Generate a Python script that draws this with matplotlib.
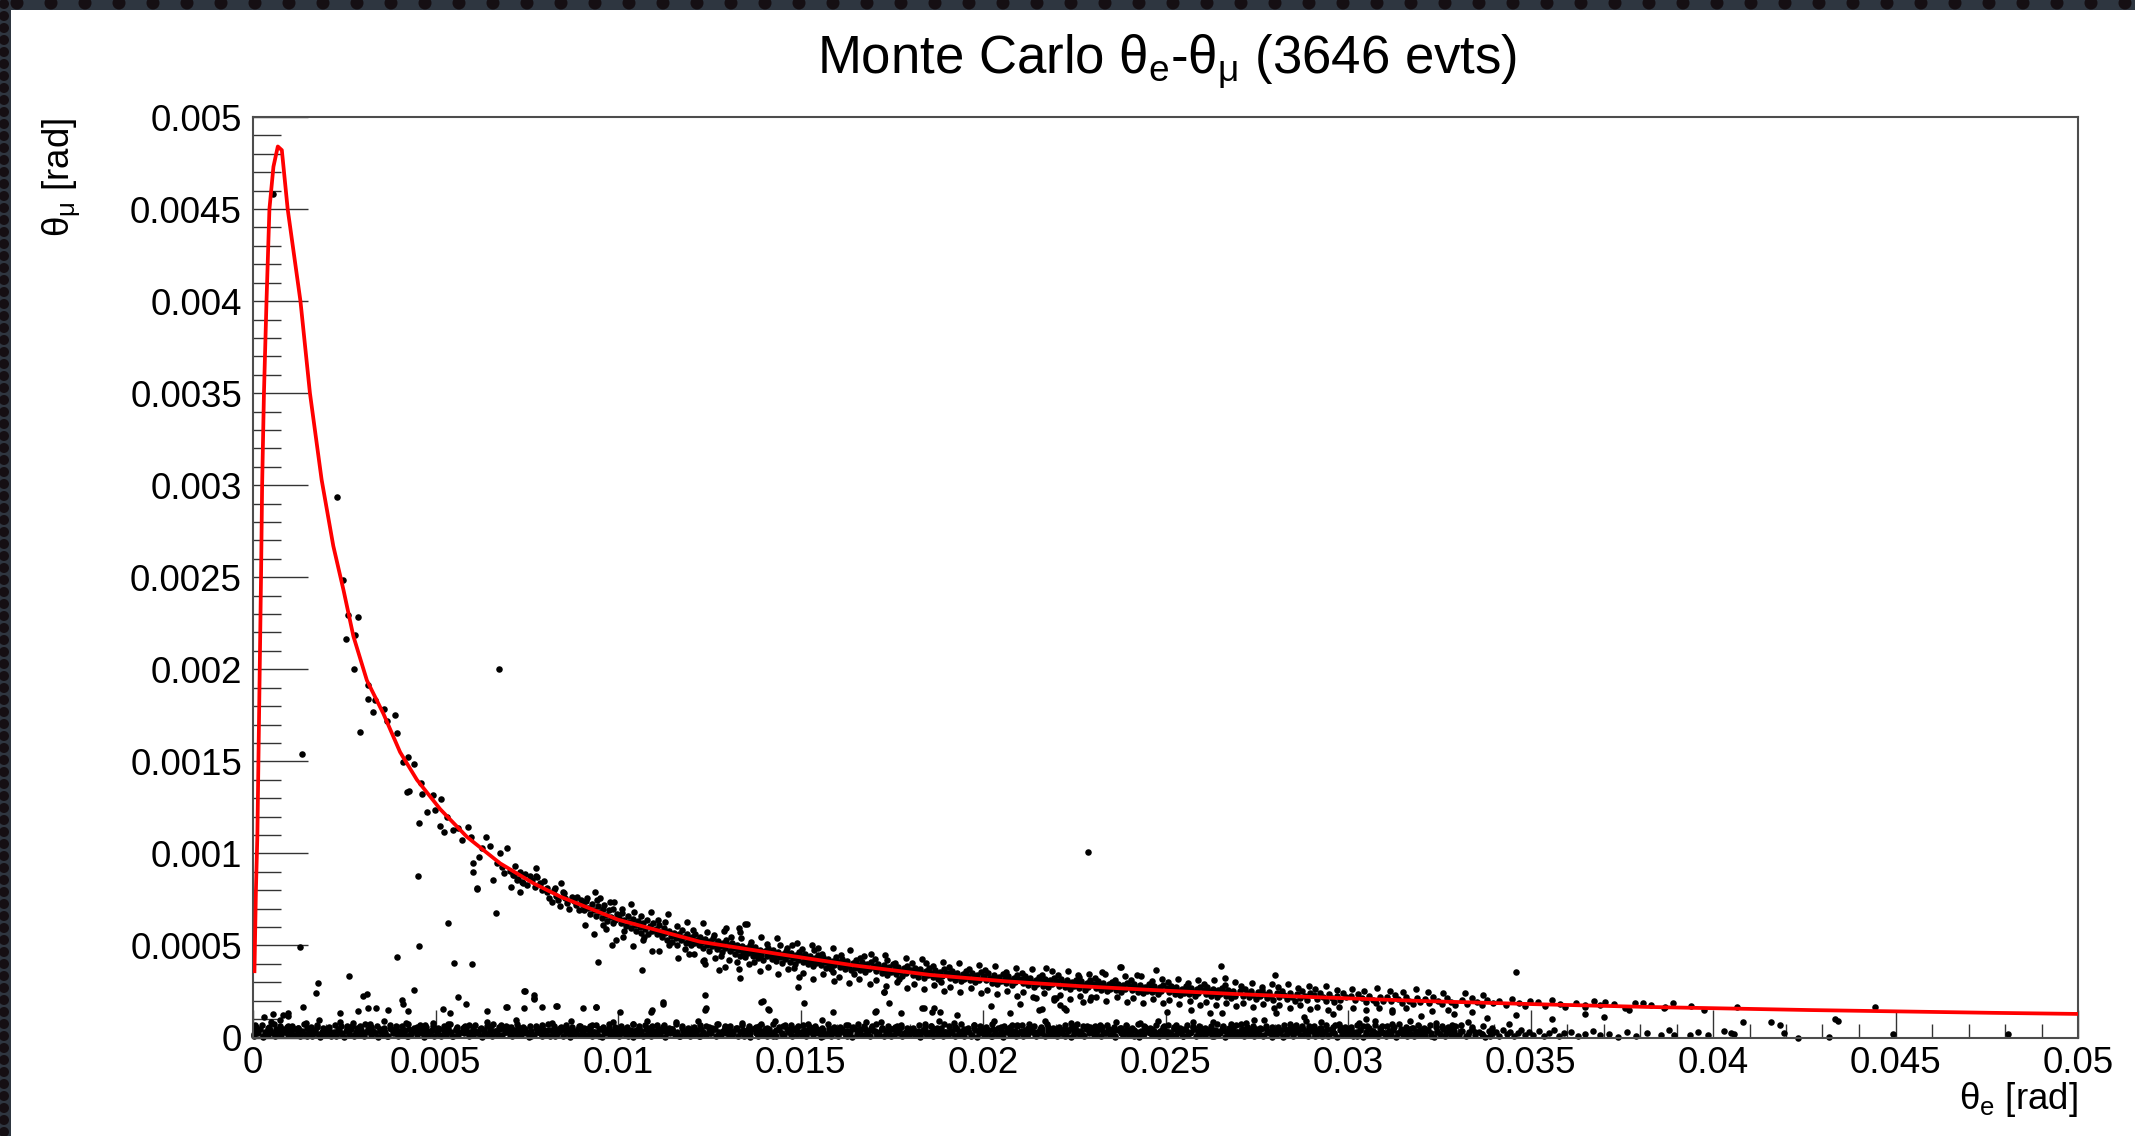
import numpy as np
import matplotlib.pyplot as plt
from matplotlib.ticker import MultipleLocator, FuncFormatter
from matplotlib.patches import Rectangle, Circle

plt.rcParams['font.family'] = ['Liberation Sans', 'DejaVu Sans']
plt.rcParams['mathtext.fontset'] = 'custom'
plt.rcParams['mathtext.rm'] = 'Liberation Sans'
plt.rcParams['mathtext.it'] = 'Liberation Sans'
plt.rcParams['mathtext.sf'] = 'Liberation Sans'

# elastic mu-e kinematic curve (theta_e, theta_mu) in rad
theta_e_curve = [0.00004, 0.00008, 0.00012, 0.00017, 0.00022, 0.00025, 0.0003, 0.00037,
                 0.00045, 0.00056, 0.00068, 0.00079, 0.00095, 0.0013, 0.00156, 0.00188,
                 0.0022, 0.00248, 0.00275, 0.00312, 0.00357, 0.00403, 0.00449, 0.00513,
                 0.00586, 0.00677, 0.00768, 0.00842, 0.01, 0.01225, 0.01435, 0.01645,
                 0.01855, 0.02064, 0.02273, 0.02484, 0.02694, 0.0287, 0.03207, 0.03512,
                 0.03819, 0.04268, 0.045, 0.04765, 0.05]
theta_mu_curve = [0.00036, 0.0008, 0.0011, 0.0018, 0.0025, 0.003, 0.0035, 0.004,
                  0.0045, 0.00473, 0.00484, 0.00482, 0.0045, 0.004, 0.0035, 0.00303,
                  0.00267, 0.00243, 0.00218, 0.00194, 0.00176, 0.00155, 0.0014, 0.00124,
                  0.00109, 0.000946, 0.000838, 0.000765, 0.00064, 0.00052, 0.000455, 0.000392,
                  0.00034, 0.000305, 0.000278, 0.000256, 0.000236, 0.000222, 0.000198, 0.000181,
                  0.000166, 0.000149, 0.000142, 0.000134, 0.000128]

# events as "theta_e,theta_mu" pairs, theta_e in 1e-5 rad, theta_mu in 1e-6 rad
elastic_events = """
229,2938 246,2485 261,2295 289,2282 255,2163 280,2186 278,2002 316,1915 316,1839 334,1833
328,1770 359,1783 390,1752 366,1721 293,1661 394,1656 412,1498 426,1525 441,1484 421,1335
428,1341 460,1381 462,1323 493,1317 514,1296 476,1227 499,1236 456,1163 513,1150 522,1118
531,1199 549,1127 563,1136 572,1073 590,1142 597,1091 604,946 602,901 613,810 618,982
627,1028 638,1087 648,1040 657,856 668,946 677,1000 682,928 695,1028 688,895 714,883
706,819 723,856 732,792 741,838 774,919 774,877 787,838 805,810 828,810 843,841 851,783
887,765 951,756
705,905 712,880 718,930 725,860 732,900 738,845 745,890 752,830 758,875 765,855 772,820
779,870 786,835 793,800 798,850
805,790 812,760 818,735 824,800 831,770 836,745 842,712 849,790 855,760 861,730 867,700
873,765 880,742 886,718 892,690 898,745
903,720 908,690 913,740 918,705 924,672 929,725 934,690 939,660 945,712 950,680 955,650
960,700 966,668 971,635 976,690 982,655 987,700 992,640 997,672 958,610 942,745 985,620
1003,650 1008,620 1012,675 1017,640 1022,605 1027,660 1031,628 1036,596 1041,645 1046,612
1050,580 1055,632 1060,600 1064,570 1069,620 1074,590 1079,640 1083,560 1088,605 1093,578
1097,620 1044,680 1072,545 1016,580
1103,590 1107,560 1112,610 1116,575 1121,548 1126,595 1130,565 1135,532 1140,580 1144,552
1149,520 1153,570 1158,540 1163,505 1167,560 1172,528 1176,585 1181,545 1186,515 1190,560
1195,530 1199,500 1128,630 1184,480
1203,545 1207,515 1212,560 1216,530 1221,500 1225,548 1230,518 1234,488 1239,535 1243,505
1248,470 1252,525 1257,495 1261,540 1266,510 1270,480 1275,525 1279,495 1284,462 1288,512
1293,485 1297,530 1245,575 1281,440
1303,500 1307,470 1312,515 1316,485 1321,455 1325,505 1330,475 1334,445 1339,495 1343,465
1348,435 1352,485 1357,458 1361,500 1366,470 1370,440 1375,490 1379,460 1384,430 1388,478
1393,450 1397,420 1336,540 1372,410
1403,470 1407,440 1412,485 1416,455 1421,428 1425,475 1430,445 1434,415 1439,462 1443,435
1448,405 1452,455 1457,428 1461,470 1466,440 1470,412 1475,458 1479,430 1484,400 1488,448
1493,420 1497,465 1445,500 1482,380
1503,440 1507,410 1512,455 1516,425 1521,398 1525,445 1530,415 1534,388 1539,432 1543,405
1548,450 1552,420 1557,392 1561,438 1566,410 1570,380 1575,425 1579,400 1584,372 1588,418
1593,392 1597,435 1537,475 1590,355
1603,410 1608,385 1613,425 1618,398 1623,372 1628,415 1633,390 1638,365 1643,405 1648,380
1653,420 1658,395 1663,368 1668,408 1673,382 1678,355 1683,398 1688,372 1693,412 1698,385
1646,345 1675,440
1703,388 1708,362 1713,400 1718,375 1723,350 1728,392 1733,368 1738,342 1743,383 1748,358
1753,398 1758,372 1763,345 1768,385 1773,360 1778,335 1783,376 1788,352 1793,390 1798,365
1736,420 1771,318
1803,368 1808,342 1813,380 1818,355 1823,330 1828,372 1833,348 1838,322 1843,362 1848,338
1853,378 1858,352 1863,328 1868,366 1873,342 1878,318 1883,358 1888,334 1893,372 1898,348
1845,405 1885,300
1904,350 1909,325 1914,362 1919,338 1924,312 1929,352 1934,328 1939,305 1944,345 1949,320
1954,360 1959,335 1964,310 1969,348 1974,325 1979,300 1984,340 1989,315 1994,355 1999,330
2004,335 2009,310 2014,348 2019,322 2024,298 2029,338 2034,314 2039,290 2044,330 2049,305
2054,345 2059,320 2064,296 2069,334 2074,310 2079,286 2084,325 2089,300 2094,340 2099,315
2104,318 2109,295 2114,332 2119,308 2124,284 2129,322 2134,300 2139,276 2144,315 2149,292
2154,330 2159,305 2164,282 2169,318 2174,296 2179,272 2184,310 2189,288 2194,325 2199,300
2204,305 2209,282 2214,318 2219,295 2224,272 2229,310 2234,288 2239,265 2244,302 2249,280
2254,315 2259,292 2264,268 2269,305 2274,284 2279,260 2284,298 2289,276 2294,312 2299,290
2260,340
2304,292 2309,270 2314,305 2319,282 2324,260 2329,296 2334,275 2339,252 2344,288 2349,266
2354,300 2359,280 2364,256 2369,292 2374,270 2379,248 2384,284 2389,262 2394,298
2404,280 2409,258 2414,292 2419,270 2424,248 2429,284 2434,262 2439,240 2444,276 2449,255
2454,290 2459,268 2464,245 2469,280 2474,258 2479,236 2484,272 2489,250 2494,286
2505,270 2510,248 2515,282 2520,260 2525,238 2530,274 2535,252 2540,230 2545,266 2550,244
2555,280 2560,258 2565,236 2570,270 2575,248 2580,226 2585,262 2590,240 2595,276
2605,260 2610,238 2615,272 2620,250 2625,228 2630,264 2635,242 2640,220 2645,256 2650,234
2655,268 2660,246 2665,224 2670,258 2675,236 2680,214 2685,250 2690,228
2705,250 2711,228 2717,262 2723,240 2729,218 2735,254 2741,232 2747,210 2753,246 2759,224
2765,258 2771,236 2777,214 2783,248 2789,226 2795,204
2806,242 2812,220 2819,252 2826,230 2833,208 2840,244 2847,222 2854,200 2861,238 2868,216
2875,250 2882,228 2889,206 2896,240
2907,232 2915,210 2923,244 2931,222 2939,200 2947,236 2955,214 2963,192 2971,228 2979,206
2987,240 2995,218
3008,226 3018,204 3028,238 3038,216 3048,194 3058,228 3068,206 3078,186 3088,220 3096,198
3108,218 3118,196 3128,230 3138,208 3148,188 3158,222 3168,200 3178,180 3188,212 3196,192
3210,210 3222,190 3234,222 3246,200 3258,180 3270,214 3282,194 3294,176
3312,204 3326,184 3340,216 3354,194 3368,174 3382,206 3396,186
3415,198 3432,178 3450,210 3468,188 3486,170 3498,200
3520,192 3540,172 3560,204 3580,182 3595,165
3625,186 3650,168 3675,198 3690,176 3703,195 3649,177 3730,180 3760,162 3771,150 3785,190
3808,186 3830,174 3865,158 3868,167 3890,185 3940,170 3975,152 4065,167
"""

# outer edges of the elastic band
elastic_edge_events = """
915,760 938,790 962,720 990,735 910,610 935,560 968,590 994,530
1010,700 1035,725 1062,660 1090,680 1015,545 1040,495 1068,530 1092,470
1110,640 1138,672 1162,605 1190,625 1112,470 1140,500 1165,430 1195,455
1205,585 1232,620 1262,555 1290,580 1208,455 1238,400 1265,430 1292,385
1310,545 1335,575 1365,520 1392,545 1305,420 1332,370 1360,400 1390,360
1408,510 1436,540 1462,485 1490,515 1410,385 1438,345 1465,372 1495,330
1505,480 1532,505 1560,455 1590,485 1508,350 1535,320 1562,345 1592,305
1610,450 1636,478 1664,430 1692,455 1606,330 1632,298 1660,320 1690,290
1705,425 1732,450 1760,405 1790,430 1708,310 1735,280 1765,300 1792,270
1806,405 1834,428 1862,390 1890,410 1810,290 1838,262 1866,285 1894,255
1906,385 1934,405 1962,370 1990,392 1910,272 1938,248 1966,268 1994,240
2006,368 2034,390 2062,355 2090,375 2010,258 2038,236 2066,252 2094,228
2106,352 2134,372 2162,340 2190,360 2110,245 2138,222 2166,240 2194,215
2206,338 2234,360 2262,328 2290,345 2210,232 2238,210 2266,228 2294,205
2306,325 2334,345 2362,315 2390,332 2310,222 2338,200 2366,218 2394,195
2406,312 2434,332 2462,305 2490,320 2410,212 2438,190 2466,208 2494,186
2506,302 2534,320 2562,295 2590,310 2510,202 2538,182 2566,198 2594,178
2606,292 2634,310 2662,285 2690,300 2610,194 2638,175 2666,190 2694,170
2708,282 2736,298 2764,276 2792,290 2712,186 2740,168 2768,182 2796,162
2808,272 2836,288 2864,268 2892,280 2812,178 2840,160 2868,175 2896,156
2910,265 2940,278 2970,258 2915,168 2945,152 2975,165
3010,262 3045,252 3080,270 3015,158 3050,148 3085,160
3115,255 3150,245 3185,262 3120,150 3160,160
3220,248 3260,240 3230,142 3275,152
3320,240 3370,232 3340,140
"""

low_events = """
2,10 8,35 14,22 20,48 27,5 33,30 40,15 47,42 54,25 61,8 68,38 75,18 82,45 89,28 95,12 5,70 50,82
103,30 109,12 116,45 122,22 129,6 135,38 142,18 149,50 156,28 163,10 170,40 177,20 184,4 191,34 197,15 145,78 180,95
202,18 208,42 215,8 221,32 228,15 234,48 241,25 248,5 255,36 262,20 269,44 276,10 283,30 290,16 296,40 238,85 270,62
303,8 309,28 316,46 322,14 329,35 335,22 342,4 349,40 356,18 363,30 370,10 377,46 384,24 391,36 397,6 320,72 360,90
402,38 408,16 415,30 421,6 428,44 434,20 441,34 448,12 455,48 462,26 469,4 476,38 483,18 490,42 496,10 420,80 470,66
503,22 509,44 516,10 522,34 529,16 535,50 542,28 549,6 556,40 563,14 570,32 577,22 584,46 591,8 597,30 535,75 580,60
602,12 608,36 615,24 621,46 628,4 634,30 641,18 648,42 655,8 662,34 669,20 676,48 683,12 690,28 696,40 640,85 680,70
703,30 709,8 716,42 722,20 729,36 735,12 742,48 749,24 756,4 763,38 770,16 777,32 784,44 791,10 797,26 720,95 775,65
802,16 808,40 815,6 821,28 828,46 834,18 841,34 848,10 855,42 862,24 869,4 876,36 883,20 890,46 896,12 820,78 870,88
903,36 909,14 916,46 922,24 929,8 935,32 942,20 949,44 956,4 963,28 970,40 977,14 984,34 991,22 997,48 930,70 985,82
1002,6 1008,30 1015,44 1021,16 1028,38 1034,24 1041,4 1048,42 1055,18 1062,32 1069,10 1076,46 1083,26 1090,8 1096,36 1040,75 1080,92
1103,26 1109,44 1116,12 1122,34 1129,4 1135,40 1142,22 1149,48 1156,14 1163,30 1170,6 1177,38 1184,20 1191,44 1197,10 1125,68 1160,85
1202,40 1208,18 1215,32 1221,8 1228,46 1234,26 1241,12 1248,36 1255,22 1262,48 1269,6 1276,30 1283,16 1290,42 1296,24 1220,90 1270,72
1303,12 1309,36 1316,22 1322,46 1329,8 1335,30 1342,42 1349,16 1356,34 1363,4 1370,44 1377,24 1384,10 1391,38 1397,20 1340,80 1385,65
1402,34 1408,10 1415,44 1421,20 1428,30 1434,6 1441,40 1448,26 1455,14 1462,46 1469,32 1476,8 1483,42 1490,18 1496,28 1430,88 1475,70
1503,20 1509,42 1516,6 1522,30 1529,48 1535,14 1542,36 1549,24 1556,4 1563,40 1570,18 1577,32 1584,10 1591,46 1597,26 1520,75 1560,95
1602,8 1608,32 1615,46 1621,18 1628,38 1634,24 1641,4 1648,44 1655,20 1662,34 1669,12 1676,48 1683,28 1690,6 1696,40 1630,68 1680,82
1703,38 1709,16 1716,28 1722,44 1729,8 1735,34 1742,20 1749,48 1756,12 1763,30 1770,42 1777,6 1784,24 1791,36 1797,14 1720,85 1765,62
1802,24 1808,46 1815,12 1821,36 1828,4 1834,28 1841,42 1848,18 1855,32 1862,10 1869,46 1876,22 1883,38 1890,8 1896,30 1840,72 1880,90
1903,14 1909,38 1916,24 1922,6 1929,44 1935,20 1942,34 1949,10 1956,48 1963,28 1970,16 1977,40 1984,4 1991,32 1997,22 1920,78 1975,66
2002,42 2008,20 2015,32 2021,8 2028,46 2034,26 2041,14 2048,38 2055,4 2062,30 2069,44 2076,18 2083,34 2090,10 2096,24 2030,88 2080,70
2103,28 2109,6 2116,40 2122,18 2129,34 2135,48 2142,12 2149,30 2156,22 2163,44 2170,8 2177,36 2184,16 2191,46 2197,26 2125,75 2170,92
2202,10 2208,34 2215,22 2221,46 2228,14 2234,38 2241,4 2248,28 2255,42 2262,18 2269,32 2276,8 2283,44 2290,24 2296,36 2240,80 2285,64
2303,36 2309,18 2316,44 2322,8 2329,30 2335,22 2342,46 2349,12 2356,34 2363,4 2370,40 2377,26 2384,14 2391,42 2397,20 2320,70 2365,86
2402,22 2408,42 2415,10 2421,30 2428,4 2434,38 2441,18 2448,46 2455,28 2462,12 2469,36 2476,24 2483,6 2490,40 2496,16 2430,78 2480,90
2503,6 2509,32 2516,20 2522,44 2529,14 2535,36 2542,26 2549,8 2556,42 2563,18 2570,30 2577,48 2584,10 2591,34 2597,24 2530,66 2575,82
2602,40 2608,14 2615,30 2621,46 2628,20 2634,8 2641,36 2648,24 2655,44 2662,4 2669,28 2676,16 2683,38 2690,12 2696,32 2630,85 2680,72
2703,26 2709,44 2716,8 2722,34 2729,18 2735,40 2742,6 2749,30 2756,20 2763,46 2770,12 2777,36 2784,24 2791,4 2797,42 2720,80 2770,95
2802,12 2808,36 2815,24 2821,4 2828,44 2834,20 2841,32 2848,10 2855,40 2862,28 2869,14 2876,46 2883,22 2890,6 2896,34 2840,75 2885,88
2903,34 2909,10 2916,42 2922,22 2929,6 2935,30 2942,46 2949,16 2956,38 2963,26 2970,4 2977,40 2984,18 2991,32 2997,12 2925,85 2965,70
3002,20 3008,44 3015,8 3021,30 3028,16 3034,40 3041,4 3048,28 3055,46 3062,14 3069,34 3076,22 3083,6 3090,38 3096,26 3030,80 3075,92
3103,8 3110,32 3117,18 3124,42 3131,4 3138,26 3145,38 3152,12 3159,30 3166,46 3173,20 3180,6 3187,36 3194,16 3120,72 3170,88
3203,30 3211,12 3219,40 3227,22 3235,4 3243,34 3251,18 3259,44 3267,8 3275,28 3283,14 3291,38 3240,78 3285,66
3304,16 3313,38 3322,6 3331,28 3340,44 3349,12 3358,32 3367,20 3376,4 3385,36 3394,22 3330,85
3405,28 3415,8 3425,40 3435,18 3445,32 3455,6 3465,24 3475,42 3485,12 3495,30 3440,75
3508,14 3522,34 3536,6 3550,26 3564,40 3578,10 3592,22
3612,30 3630,8 3650,20 3672,36 3690,12
3715,18 3740,4 3765,28 3788,10
3820,22 3857,14 3893,14 3880,40
3936,14 3985,14 3960,30
4030,37 4049,24 4058,20 4083,86 4159,86 4183,68 4195,26 4232,0 4318,5 4333,100 4343,90 4492,20 4807,20
"""

# second layer of the dense low-angle band
low_core_events = """
4,20 13,42 27,10 36,32 44,55 57,25 63,45 78,15 86,38 97,60
102,35 116,12 124,50 133,28 148,8 152,44 167,22 174,58 189,30 193,16
204,48 213,26 227,6 236,40 244,18 257,62 263,34 278,12 286,52 297,28
302,14 316,38 324,58 333,22 348,46 352,30 367,8 374,50 389,24 393,42
402,20 416,42 424,10 433,32 448,55 452,25 467,45 474,15 489,38 493,60
504,35 513,12 527,50 536,28 544,8 557,44 563,22 578,58 586,30 597,16
602,48 616,26 624,6 633,40 648,18 652,62 667,34 674,12 689,52 693,28
704,14 713,38 727,58 736,22 744,46 757,30 763,8 778,50 786,24 797,42
804,20 813,42 827,10 836,32 844,55 857,25 863,45 878,15 886,38 897,60
902,35 916,12 924,50 933,28 948,8 952,44 967,22 974,58 989,30 993,16
1004,48 1013,26 1027,6 1036,40 1044,18 1057,62 1063,34 1078,12 1086,52 1097,28
1102,14 1116,38 1124,58 1133,22 1148,46 1152,30 1167,8 1174,50 1189,24 1193,42
1202,20 1216,42 1224,10 1233,32 1248,55 1252,25 1267,45 1274,15 1289,38 1293,60
1304,35 1313,12 1327,50 1336,28 1344,8 1357,44 1363,22 1378,58 1386,30 1397,16
1402,48 1416,26 1424,6 1433,40 1448,18 1452,62 1467,34 1474,12 1489,52 1493,28
1504,14 1513,38 1527,58 1536,22 1544,46 1557,30 1563,8 1578,50 1586,24 1597,42
1604,20 1613,42 1627,10 1636,32 1644,55 1657,25 1663,45 1678,15 1686,38 1697,60
1702,35 1716,12 1724,50 1733,28 1748,8 1752,44 1767,22 1774,58 1789,30 1793,16
1804,48 1813,26 1827,6 1836,40 1844,18 1857,62 1863,34 1878,12 1886,52 1897,28
1902,14 1916,38 1924,58 1933,22 1948,46 1952,30 1967,8 1974,50 1989,24 1993,42
2002,20 2016,42 2024,10 2033,32 2048,55 2052,25 2067,45 2074,15 2089,38 2093,60
2104,35 2113,12 2127,50 2136,28 2144,8 2157,44 2163,22 2178,58 2186,30 2197,16
2202,48 2216,26 2224,6 2233,40 2248,18 2252,62 2267,34 2274,12 2289,52 2293,28
2304,14 2313,38 2327,58 2336,22 2344,46 2357,30 2363,8 2378,50 2386,24 2397,42
2404,20 2413,42 2427,10 2436,32 2444,55 2457,25 2463,45 2478,15 2486,38 2497,60
2502,35 2516,12 2524,50 2533,28 2548,8 2552,44 2567,22 2574,58 2589,30 2593,16
2604,48 2613,26 2627,6 2636,40 2644,18 2657,62 2663,34 2678,12 2686,52 2697,28
2702,14 2716,38 2724,58 2733,22 2748,46 2752,30 2767,8 2774,50 2789,24 2793,42
2802,20 2816,42 2824,10 2833,32 2848,55 2852,25 2867,45 2874,15 2889,38 2893,60
2904,35 2913,12 2927,50 2936,28 2944,8 2957,44 2963,22 2978,58 2986,30 2997,16
3002,48 3016,26 3024,6 3033,40 3048,18 3052,62 3067,34 3074,12 3089,52 3093,28
3104,14 3113,38 3127,58 3136,22 3144,46 3157,30 3163,8 3178,50 3186,24 3197,42
3204,20 3216,42 3227,10 3244,32 3257,55 3268,25 3284,45 3296,15
3310,38 3328,12 3347,30 3366,20 3388,8
"""

# upper fringe of the low-angle band
low_fringe_events = """
7,58 24,66 41,52 58,74 75,60 92,55 107,64 124,54 141,72 158,58 175,68 192,52
207,55 224,70 241,60 258,52 275,78 292,64 307,72 324,56 341,64 358,54 375,70 392,60
407,60 424,74 441,54 458,66 475,56 492,78 507,54 524,62 541,76 558,58 575,52 592,68
607,66 624,52 641,62 658,74 675,56 692,60 707,58 724,72 741,55 758,64 775,52 792,70
807,74 824,60 841,52 858,68 875,58 892,64 907,52 924,64 941,70 958,56 975,74 992,58
1007,62 1024,56 1041,74 1058,52 1075,66 1092,60 1107,70 1124,58 1141,54 1158,72 1175,60 1192,52
1207,56 1224,68 1241,62 1258,54 1275,76 1292,58 1307,64 1324,52 1341,70 1358,60 1375,54 1392,72
1407,52 1424,74 1441,58 1458,66 1475,54 1492,62 1507,68 1524,56 1541,64 1558,52 1575,72 1592,58
1607,58 1624,66 1641,52 1658,74 1675,60 1692,54 1707,72 1724,54 1741,62 1758,58 1775,68 1792,52
1807,54 1824,70 1841,58 1858,64 1875,52 1892,74 1907,62 1924,56 1941,74 1958,52 1975,66 1992,60
2007,56 2024,72 2041,54 2058,62 2075,58 2092,70 2107,70 2124,52 2141,64 2158,58 2175,74 2192,54
2207,58 2224,66 2241,52 2258,72 2275,60 2292,56 2307,64 2324,54 2341,70 2358,56 2375,52 2392,68
2407,52 2424,72 2441,60 2458,54 2475,66 2492,58 2507,66 2524,58 2541,52 2558,70 2575,56 2592,62
2607,54 2624,64 2641,72 2658,58 2675,52 2692,68 2707,72 2724,56 2741,62 2758,52 2775,64 2792,58
2807,58 2824,70 2841,54 2858,66 2875,60 2892,52 2907,64 2924,52 2941,68 2958,58 2975,72 2992,56
3007,56 3024,66 3041,60 3058,52 3075,70 3092,62 3107,62 3124,54 3141,72 3158,58 3175,52 3192,66
3207,52 3224,68 3241,58 3258,64 3275,56 3292,60 3310,66 3340,56 3370,62 3395,52
"""

stray_events = """
54,4580 134,1540 130,490 675,2000 2287,1010 3459,357 4444,164 453,877 665,675 615,808
977,738 1348,617 1332,593 1295,593 1548,485 983,502 946,408 1066,367 1277,367 1334,322
1494,276 1509,189 1238,231 1397,198 1411,153 745,254 769,213 695,167 793,167 833,171
940,166 1093,151 1124,194 1240,159 1589,140 1705,140 1742,189 1730,249 1834,159 1861,140
2023,171 2102,184 2163,153 2201,213 2223,159 2144,213 2172,376 2376,385 2473,367
178,298 172,243 262,336 394,436 456,497 535,624 551,403 601,398 562,218 583,180
137,164 311,235 302,225 441,258 408,204 411,180 742,253 770,231 770,207 742,159
831,173 941,164 1122,180 1090,140 1238,149 1325,412 1232,416 692,164 238,131 288,146
315,159 338,162 370,149 425,146 521,153 539,131 640,146 905,159 1005,140 96,135 82,122
1236,421 1353,615 1477,502 1393,195 1415,149 1708,146 1729,246 1776,135 1839,159 1865,159
1881,140 1928,124 2075,135 2154,149 2194,204 2211,177 2227,149 2274,195 2295,222 2327,357
2379,385 2421,340 2503,140 2570,149 2621,135 2652,390 2663,322 2799,340 2656,133 2743,95
2804,133 2880,110 2960,125 3050,100 3120,140 3200,115 3290,128 3380,105 3460,120 3560,100
3650,130 3700,113 30,110 55,125 75,95 95,118
"""


def parse(block):
    pairs = np.array([p.split(',') for p in block.split()], dtype=float)
    return pairs[:, 0] * 1e-5, pairs[:, 1] * 1e-6


W, H = 2135, 1136
fig = plt.figure(figsize=(W / 100, H / 100), dpi=100, facecolor='white')

# dark frame strips on the top and left edges
bg = fig.add_axes([0, 0, 1, 1], zorder=-5)
bg.set_xlim(0, W)
bg.set_ylim(H, 0)
bg.axis('off')
bg.add_patch(Rectangle((0, 0), W, 10, color='#2e3640', lw=0))
bg.add_patch(Rectangle((0, 0), 11, H, color='#2e3640', lw=0))
for cx in range(17, W, 34):
    bg.add_patch(Circle((cx, 3), 6.5, color='#150f13', lw=0))
for cy in range(4, H, 12):
    bg.add_patch(Circle((4, cy), 5, color='#150f13', lw=0))

ax = fig.add_axes([253 / W, 1 - 1037.5 / H, (2078 - 253) / W, (1037.5 - 117) / H])
ax.set_facecolor('white')

for block in (low_events, low_core_events, low_fringe_events,
              elastic_events, elastic_edge_events, stray_events):
    ex, ey = parse(block)
    ax.plot(ex, ey, 'o', ms=4.7, mew=0, color='black', clip_on=False, zorder=2)

ax.plot(theta_e_curve, theta_mu_curve, color='#ff0000', lw=2.7, zorder=3)

ax.set_xlim(0, 0.05)
ax.set_ylim(0, 0.005)
ax.xaxis.set_major_locator(MultipleLocator(0.005))
ax.xaxis.set_minor_locator(MultipleLocator(0.001))
ax.yaxis.set_major_locator(MultipleLocator(0.0005))
ax.yaxis.set_minor_locator(MultipleLocator(0.0001))
fmt = FuncFormatter(lambda v, p: '%g' % round(v, 6))
ax.xaxis.set_major_formatter(fmt)
ax.yaxis.set_major_formatter(fmt)

ax.tick_params(which='both', direction='in', top=False, right=False,
               color='#333333', width=1.0, labelsize=26.5)
ax.tick_params(axis='y', which='major', length=39.5, pad=8)
ax.tick_params(axis='y', which='minor', length=20)
ax.tick_params(axis='x', which='major', length=20, pad=6)
ax.tick_params(axis='x', which='minor', length=10)
for sp in ax.spines.values():
    sp.set_color('#4d4d4d')
    sp.set_linewidth(1.5)

fig.text(1167 / W, 1 - 61 / H, r'Monte Carlo $\theta_\mathrm{e}$-$\theta_\mathrm{\mu}$ (3646 evts)',
         fontsize=38, ha='center', va='center')
fig.text(2078 / W, 1 - 1080 / H, r'$\theta_\mathrm{e}$ [rad]', fontsize=26.5, ha='right', va='top')
fig.text(62 / W, 1 - 118 / H, r'$\theta_\mathrm{\mu}$ [rad]', fontsize=26.5, rotation=90,
         ha='center', va='top')

fig.savefig('out.png', dpi=100)
